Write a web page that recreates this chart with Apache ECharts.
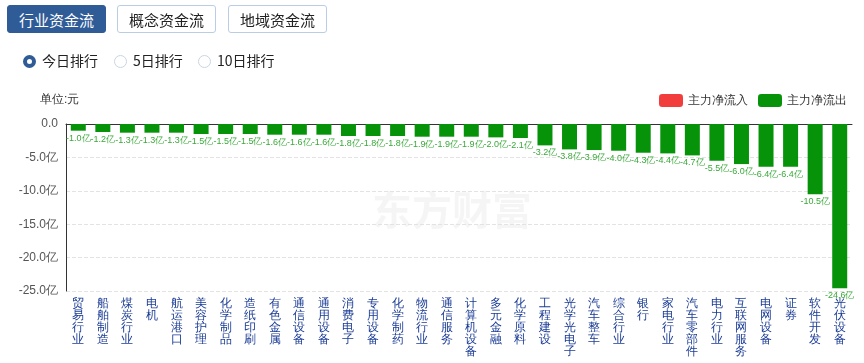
<!DOCTYPE html>
<html><head><meta charset="utf-8">
<script src="https://cdn.jsdelivr.net/npm/echarts@6/dist/echarts.min.js"></script>
<style>
html,body{margin:0;padding:0;background:#fff;width:864px;height:363px;overflow:hidden;font-family:"Microsoft YaHei","Noto Sans CJK SC",sans-serif;}
#chart{position:absolute;left:0;top:0;width:864px;height:363px;}
.btn{position:absolute;top:5px;height:28px;width:99px;border:1px solid #b9cde4;border-radius:3px;box-sizing:border-box;text-align:center;line-height:27px;font-size:15px;color:#222;background:#fff;z-index:2;}
.btn.on{background:#2f5b97;border-color:#2f5b97;color:#fff;}
.radio{position:absolute;top:51px;font-size:14px;color:#222;z-index:2;line-height:18px;}
.radio i{display:inline-block;width:11px;height:11px;border:1px solid #c7d4e2;border-radius:50%;vertical-align:-2px;margin-right:6px;box-sizing:content-box;}
.radio.on i{border:4px solid #2f5b97;width:5px;height:5px;background:#fff;}
</style></head><body>
<div class="btn on" style="left:7px">行业资金流</div>
<div class="btn" style="left:117px">概念资金流</div>
<div class="btn" style="left:228px">地域资金流</div>
<div class="radio on" style="left:23px"><i></i>今日排行</div>
<div class="radio" style="left:114px"><i></i>5日排行</div>
<div class="radio" style="left:198px"><i></i>10日排行</div>
<div id="chart"></div>
<script>
const categories = ["贸易行业","船舶制造","煤炭行业","电机","航运港口","美容护理","化学制品","造纸印刷","有色金属","通信设备","通用设备","消费电子","专用设备","化学制药","物流行业","通信服务","计算机设备","多元金融","化学原料","工程建设","光学光电子","汽车整车","综合行业","银行","家电行业","汽车零部件","电力行业","互联网服务","电网设备","证券","软件开发","光伏设备"];
const outflow = [-1.0,-1.2,-1.3,-1.3,-1.3,-1.5,-1.5,-1.5,-1.6,-1.6,-1.6,-1.8,-1.8,-1.8,-1.9,-1.9,-1.9,-2.0,-2.1,-3.2,-3.8,-3.9,-4.0,-4.3,-4.4,-4.7,-5.5,-6.0,-6.4,-6.4,-10.5,-24.6];
const inflow = [];
const yTicks = {min:-25, max:0, interval:5};

const chart = echarts.init(document.getElementById('chart'));
chart.setOption({
  animation:false,
  title:{text:'单位:元', left:35, top:89, textStyle:{fontSize:12, fontWeight:'normal', color:'#333'}},
  legend:{right:12, top:89, itemWidth:24, itemHeight:13, itemGap:10, icon:'roundRect',
    textStyle:{fontSize:12, color:'#333'}, data:['主力净流入','主力净流出']},
  graphic:[{type:'text', left:372, top:190, z:0, style:{text:'东方财富', font:'bold 40px "Noto Sans CJK SC"', fill:'rgba(0,0,0,0.04)'}}],
  grid:{left:66, right:12, top:124, bottom:72},
  xAxis:[{type:'category', data:categories, position:'bottom',
      axisLine:{show:false, onZero:false}, axisTick:{show:false},
      axisLabel:{interval:0, margin:7, color:'#1b3c95', fontSize:12, lineHeight:12, verticalAlign:'top',
        formatter:v=>v.split('').join('\n')}},
    {type:'category', data:categories, position:'top',
      axisLine:{show:true, onZero:false, lineStyle:{color:'#333'}}, axisTick:{show:false}, axisLabel:{show:false}}],
  yAxis:{type:'value', min:yTicks.min, max:yTicks.max, interval:yTicks.interval,
    axisLine:{show:true, lineStyle:{color:'#333'}}, axisTick:{show:false},
    axisLabel:{color:'#555', fontSize:12, margin:8, formatter:v=>v===0?'0.0':v.toFixed(1)+'亿'},
    splitLine:{lineStyle:{type:'dashed', color:'#e3e3e3'}}},
  series:[
    {name:'主力净流入', type:'bar', stack:'a', data:inflow, itemStyle:{color:'#f23d3d'}},
    {name:'主力净流出', type:'bar', stack:'a', data:outflow, barWidth:15,
      itemStyle:{color:'#06930a'},
      label:{show:true, position:'bottom', distance:3, fontSize:9, color:'#3aa93a', formatter:p=>p.value.toFixed(1)+'亿'}}
  ]
});
</script>
</body></html>
